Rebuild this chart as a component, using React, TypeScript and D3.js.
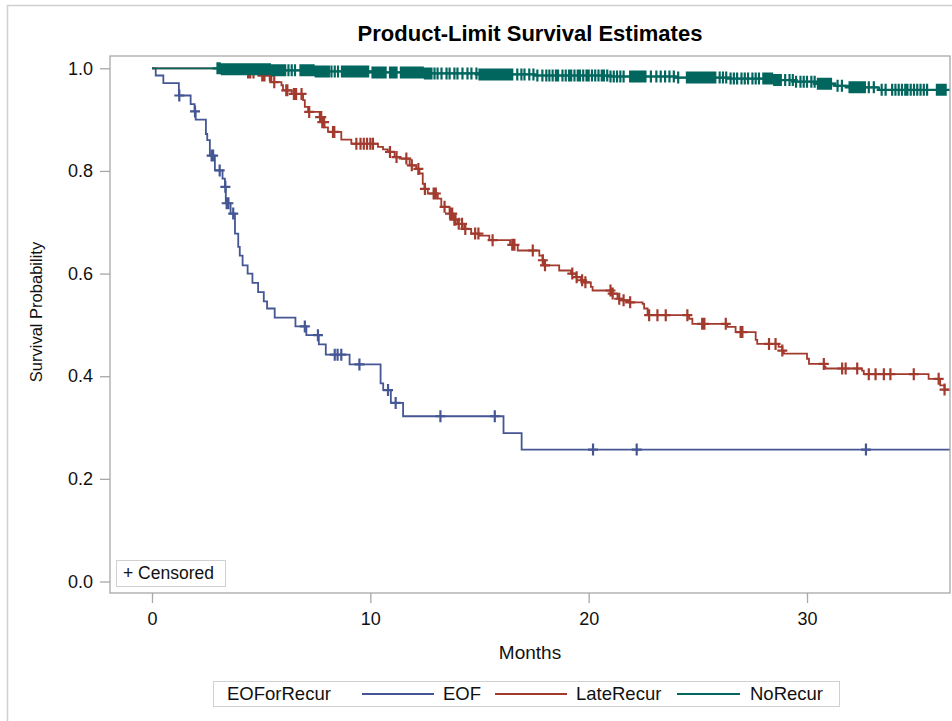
import React, { useEffect, useRef } from "react";
import * as d3 from "d3";

// EOF group: event times (months) and survival after each drop
const eofTimes = [0.17, 0.52, 1.23, 1.77, 1.95, 2.0, 2.47, 2.53, 2.65, 2.88, 3.23, 3.34, 3.38, 3.6, 3.8, 3.95, 4.02, 4.15, 4.38, 4.6, 4.86, 5.12, 5.27, 5.62, 6.57, 7.07, 7.64, 7.96, 9.05, 10.47, 10.59, 10.94, 11.5, 16.1, 16.93];
const eofSurv = [0.986, 0.971, 0.947, 0.93, 0.916, 0.9, 0.872, 0.86, 0.83, 0.801, 0.785, 0.769, 0.737, 0.717, 0.678, 0.652, 0.635, 0.616, 0.6, 0.582, 0.564, 0.546, 0.532, 0.514, 0.497, 0.48, 0.462, 0.442, 0.423, 0.386, 0.373, 0.348, 0.322, 0.289, 0.257];
const eofCensored = [1.25, 1.97, 2.73, 2.8, 3.1, 3.36, 3.42, 3.5, 3.72, 7.0, 7.6, 8.37, 8.5, 8.67, 9.5, 10.81, 11.16, 13.21, 15.7, 20.2, 22.2, 32.7];

// LateRecur group
const lateTimes = [4.3, 4.9, 5.47, 5.93, 6.0, 6.4, 6.92, 7.0, 7.15, 7.68, 7.8, 7.9, 8.06, 8.67, 9.13, 10.35, 10.58, 10.8, 11.11, 11.34, 11.8, 12.1, 12.25, 12.4, 12.48, 12.63, 13.09, 13.25, 13.63, 13.8, 14.0, 14.3, 14.62, 15.0, 15.45, 16.4, 16.75, 17.74, 17.89, 17.97, 18.65, 19.19, 19.42, 19.65, 19.8, 20.1, 20.18, 21.05, 21.32, 21.5, 21.86, 22.47, 22.54, 22.7, 24.6, 24.75, 26.35, 26.73, 27.65, 27.72, 28.7, 28.87, 28.94, 30.0, 30.09, 30.8, 30.85, 32.52, 32.6, 35.57, 36.1, 36.3];
const lateSurv = [0.992, 0.986, 0.973, 0.967, 0.957, 0.95, 0.938, 0.925, 0.915, 0.905, 0.895, 0.885, 0.876, 0.861, 0.853, 0.847, 0.842, 0.837, 0.827, 0.824, 0.811, 0.804, 0.795, 0.775, 0.765, 0.756, 0.746, 0.73, 0.717, 0.705, 0.697, 0.687, 0.678, 0.674, 0.665, 0.656, 0.645, 0.635, 0.626, 0.616, 0.606, 0.6, 0.593, 0.587, 0.583, 0.574, 0.567, 0.561, 0.551, 0.548, 0.544, 0.541, 0.532, 0.519, 0.512, 0.502, 0.496, 0.486, 0.471, 0.463, 0.457, 0.45, 0.444, 0.434, 0.424, 0.418, 0.415, 0.411, 0.404, 0.395, 0.382, 0.374];
const lateCensored = [4.4, 4.5, 4.65, 5.05, 5.15, 5.4, 5.6, 6.15, 6.2, 6.5, 6.6, 6.85, 7.2, 7.7, 7.75, 7.8, 7.85, 7.88, 8.29, 8.35, 9.36, 9.55, 9.7, 9.85, 10.0, 10.12, 10.9, 11.2, 11.65, 11.9, 12.2, 12.5, 12.9, 13.0, 13.4, 13.65, 13.7, 13.75, 13.85, 13.9, 14.05, 14.2, 14.35, 14.8, 14.95, 15.6, 16.5, 16.6, 17.44, 17.9, 18.0, 19.25, 19.45, 19.7, 19.85, 21.0, 21.1, 21.4, 21.6, 21.9, 22.77, 23.15, 23.53, 24.52, 25.2, 25.25, 25.3, 26.28, 26.96, 27.04, 28.26, 28.56, 28.87, 30.77, 31.61, 31.77, 32.3, 32.83, 33.14, 33.52, 33.82, 34.89, 36.03, 36.3];

// NoRecur group
const noTimes = [3.2, 5.5, 7.5, 10.0, 12.5, 15.0, 17.5, 21.0, 24.0, 26.5, 28.5, 29.5, 30.4, 31.3, 31.9, 33.3];
const noSurv = [0.998, 0.996, 0.994, 0.992, 0.99, 0.988, 0.986, 0.984, 0.982, 0.98, 0.977, 0.974, 0.97, 0.966, 0.963, 0.958];
const noCensored = [
  3.0, 3.1, 3.2, 3.3, 3.4, 3.5, 3.6, 3.7, 3.8, 3.9, 4.0, 4.1, 4.2, 4.3, 4.4,
  4.5, 4.6, 4.7, 4.8, 4.9, 5.0, 5.1, 5.2, 5.3, 5.4, 5.5, 5.6, 5.7, 5.8, 5.9, 6.0, 6.1,
  6.25, 6.4, 6.55,
  6.8, 6.9, 7.0, 7.1, 7.2, 7.3, 7.4, 7.5, 7.6, 7.7, 7.8, 7.9, 8.0, 8.1,
  8.22, 8.37, 8.52,
  8.7, 8.8, 8.9, 9.0, 9.1, 9.2, 9.3, 9.4, 9.5, 9.6, 9.7, 9.8, 9.9,
  10.1, 10.2, 10.3, 10.4, 10.5, 10.6, 10.7,
  10.9, 11.0, 11.1, 11.2,
  11.4, 11.5, 11.6, 11.7, 11.8, 11.9, 12.0, 12.1, 12.2, 12.3, 12.4, 12.5, 12.6, 12.7, 12.8,
  12.94, 13.08, 13.26, 13.49, 13.63, 13.85, 13.99, 14.22, 14.45, 14.63, 14.86, 15.0,
  15.1, 15.2, 15.3, 15.4, 15.5, 15.6, 15.7, 15.8, 15.9, 16.0, 16.1, 16.2, 16.3, 16.4, 16.5,
  16.73, 16.92, 17.06, 17.28, 17.47, 17.65, 17.88, 18.06,
  18.2, 18.35, 18.5, 18.6, 18.8, 18.95, 19.1, 19.2, 19.35, 19.5, 19.6, 19.75, 19.9, 20.0, 20.15, 20.3, 20.45, 20.6, 20.7, 20.85, 21.0, 21.15, 21.3, 21.45, 21.6,
  21.9, 22.0, 22.1, 22.2, 22.3, 22.4, 22.5, 22.6,
  22.85, 23.1, 23.3, 23.5, 23.7, 23.9, 24.1,
  24.5, 24.6, 24.7, 24.8, 24.9, 25.0, 25.1, 25.2, 25.3, 25.4, 25.5, 25.6, 25.7, 25.8,
  26.0, 26.15, 26.3, 26.5, 26.65, 26.8, 27.0, 27.15, 27.3, 27.5, 27.65, 27.8,
  28.0, 28.1, 28.2, 28.3, 28.4, 28.5, 28.6, 28.7, 28.8,
  29.0, 29.2, 29.35, 29.5, 29.7, 29.85, 30.0, 30.2, 30.35,
  30.5, 30.6, 30.7, 30.8, 30.9, 31.0, 31.1,
  31.4, 31.6,
  31.95, 32.05, 32.15, 32.25, 32.35, 32.45, 32.55, 32.65,
  32.83, 33.06, 33.42, 33.6,
  33.9, 34.05, 34.2, 34.35, 34.5, 34.6, 34.75, 34.9, 35.05, 35.2, 35.35, 35.5,
  35.95, 36.05, 36.15, 36.25, 36.35,
];

const groupNames = ["EOF", "LateRecur", "NoRecur"];
const groupColors = ["#445694", "#A23A2E", "#01665E"];
const xTicks = [0, 10, 20, 30];
const yTicks = [0, 0.2, 0.4, 0.6, 0.8, 1.0];

const FONT = "'Liberation Sans', Arial, sans-serif";

export default function App() {
  const ref = useRef<SVGSVGElement>(null);

  useEffect(() => {
    const svg = d3.select(ref.current);
    svg.selectAll("*").remove();

    const frame = { left: 110, top: 56, right: 950, bottom: 593 };
    const x = d3.scaleLinear().domain([0, 30]).range([152, 807]);
    const y = d3.scaleLinear().domain([0, 1]).range([581.5, 68.3]);
    const tEnd = x.invert(frame.right);

    // outer border
    svg.append("path")
      .attr("d", `M7.5,721 V5.5 H952`)
      .attr("fill", "none")
      .attr("stroke", "#d0d0d0")
      .attr("stroke-width", 1.5);

    svg.append("text")
      .attr("x", (frame.left + frame.right) / 2)
      .attr("y", 41)
      .attr("text-anchor", "middle")
      .style("font-family", FONT)
      .style("font-size", "22px")
      .style("font-weight", "bold")
      .text("Product-Limit Survival Estimates");

    svg.append("defs").append("clipPath").attr("id", "plotclip")
      .append("rect")
      .attr("x", frame.left).attr("y", frame.top)
      .attr("width", frame.right - frame.left)
      .attr("height", frame.bottom - frame.top);

    // axes
    const yAxis = svg.append("g")
      .attr("transform", `translate(${frame.left},0)`)
      .call(d3.axisLeft(y).tickValues(yTicks).tickSize(10).tickPadding(7).tickFormat(d3.format(".1f")));
    const xAxis = svg.append("g")
      .attr("transform", `translate(0,${frame.bottom})`)
      .call(d3.axisBottom(x).tickValues(xTicks).tickSize(10).tickPadding(9).tickFormat(d3.format("d")));
    [yAxis, xAxis].forEach((g) => {
      g.select(".domain").remove();
      g.selectAll("line").attr("stroke", "#a8a8a8").attr("stroke-width", 1.3);
      g.selectAll("text").style("font-family", FONT).style("font-size", "18px").attr("fill", "#111");
    });

    svg.append("text")
      .attr("x", (frame.left + frame.right) / 2)
      .attr("y", 659)
      .attr("text-anchor", "middle")
      .style("font-family", FONT)
      .style("font-size", "19px")
      .attr("fill", "#111")
      .text("Months");

    svg.append("text")
      .attr("transform", `translate(42,312) rotate(-90)`)
      .attr("text-anchor", "middle")
      .style("font-family", FONT)
      .style("font-size", "16.5px")
      .attr("fill", "#111")
      .text("Survival Probability");

    const plot = svg.append("g").attr("clip-path", "url(#plotclip)");

    const line = d3.line<[number, number]>()
      .x((d) => x(d[0]))
      .y((d) => y(d[1]))
      .curve(d3.curveStepAfter);

    const groups = [
      { times: eofTimes, surv: eofSurv, cens: eofCensored },
      { times: lateTimes, surv: lateSurv, cens: lateCensored },
      { times: noTimes, surv: noSurv, cens: noCensored },
    ];

    groups.forEach((g, gi) => {
      const pts: [number, number][] = [[0, 1]];
      g.times.forEach((t, i) => pts.push([t, g.surv[i]]));
      pts.push([tEnd, g.surv[g.surv.length - 1]]);

      plot.append("path")
        .attr("d", line(pts))
        .attr("fill", "none")
        .attr("stroke", groupColors[gi])
        .attr("stroke-width", 1.8);

      const survAt = (t) => {
        const i = d3.bisectRight(g.times, t);
        return i === 0 ? 1 : g.surv[i - 1];
      };
      const marks = g.cens.map((t) => {
        const cx = x(t), cy = y(survAt(t));
        return `M${cx - 5},${cy}H${cx + 5}M${cx},${cy - 6}V${cy + 6}`;
      }).join("");
      plot.append("path")
        .attr("d", marks)
        .attr("fill", "none")
        .attr("stroke", groupColors[gi])
        .attr("stroke-width", 2.2);
    });

    // plot frame
    svg.append("rect")
      .attr("x", frame.left).attr("y", frame.top)
      .attr("width", frame.right - frame.left)
      .attr("height", frame.bottom - frame.top)
      .attr("fill", "none")
      .attr("stroke", "#a8a8a8")
      .attr("stroke-width", 1.3);

    // censored inset
    svg.append("rect")
      .attr("x", 116.5).attr("y", 560.5).attr("width", 109).attr("height", 26)
      .attr("fill", "#fff").attr("stroke", "#d0d0d0");
    svg.append("text")
      .attr("x", 123).attr("y", 579)
      .style("font-family", FONT).style("font-size", "17.5px").attr("fill", "#111")
      .text("+ Censored");

    // legend
    const leg = svg.append("g");
    leg.append("rect")
      .attr("x", 213.5).attr("y", 681.5).attr("width", 626).attr("height", 25)
      .attr("fill", "#fff").attr("stroke", "#d0d0d0");
    leg.append("text")
      .attr("x", 227).attr("y", 700)
      .style("font-family", FONT).style("font-size", "18.5px").attr("fill", "#111")
      .text("EOForRecur");
    const lineStart = [362, 495, 677];
    const lineEnd = [434, 567, 740];
    const labelX = [443, 576, 750];
    groupNames.forEach((name, i) => {
      leg.append("line")
        .attr("x1", lineStart[i]).attr("x2", lineEnd[i])
        .attr("y1", 694).attr("y2", 694)
        .attr("stroke", groupColors[i]).attr("stroke-width", 1.8);
      leg.append("text")
        .attr("x", labelX[i]).attr("y", 700)
        .style("font-family", FONT).style("font-size", "18.5px").attr("fill", "#111")
        .text(name);
    });
  }, []);

  return (
    <svg
      ref={ref}
      width={952}
      height={721}
      style={{ position: "absolute", left: 0, top: 0, background: "#fff" }}
    />
  );
}
